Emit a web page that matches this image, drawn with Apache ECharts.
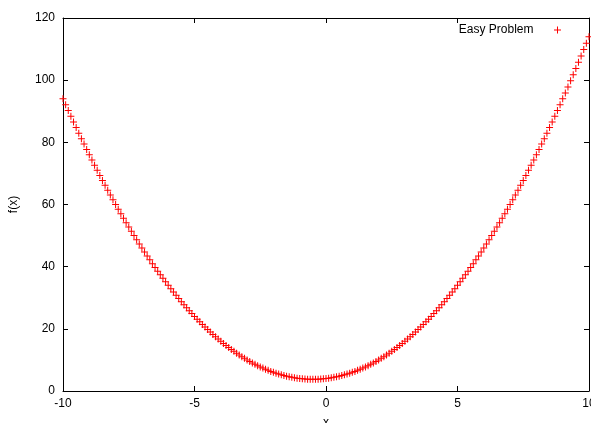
<!DOCTYPE html>
<html>
<head>
<meta charset="utf-8">
<script src="https://cdn.jsdelivr.net/npm/echarts@6/dist/echarts.min.js"></script>
<style>html,body{margin:0;padding:0;background:#fff;}#c{width:591px;height:423px;}</style>
</head>
<body>
<div id="c"></div>
<script>
var seriesName = 'Easy Problem';
var xTicks = [-10, -5, 0, 5, 10];
var yTicks = [0, 20, 40, 60, 80, 100, 120];
var xs = [-10,-9.9,-9.8,-9.7,-9.6,-9.5,-9.4,-9.3,-9.2,-9.1,-9,-8.9,-8.8,-8.7,-8.6,-8.5,-8.4,-8.3,-8.2,-8.1,-8,-7.9,-7.8,-7.7,-7.6,-7.5,-7.4,-7.3,-7.2,-7.1,-7,-6.9,-6.8,-6.7,-6.6,-6.5,-6.4,-6.3,-6.2,-6.1,-6,-5.9,-5.8,-5.7,-5.6,-5.5,-5.4,-5.3,-5.2,-5.1,-5,-4.9,-4.8,-4.7,-4.6,-4.5,-4.4,-4.3,-4.2,-4.1,-4,-3.9,-3.8,-3.7,-3.6,-3.5,-3.4,-3.3,-3.2,-3.1,-3,-2.9,-2.8,-2.7,-2.6,-2.5,-2.4,-2.3,-2.2,-2.1,-2,-1.9,-1.8,-1.7,-1.6,-1.5,-1.4,-1.3,-1.2,-1.1,-1,-0.9,-0.8,-0.7,-0.6,-0.5,-0.4,-0.3,-0.2,-0.1,0,0.1,0.2,0.3,0.4,0.5,0.6,0.7,0.8,0.9,1,1.1,1.2,1.3,1.4,1.5,1.6,1.7,1.8,1.9,2,2.1,2.2,2.3,2.4,2.5,2.6,2.7,2.8,2.9,3,3.1,3.2,3.3,3.4,3.5,3.6,3.7,3.8,3.9,4,4.1,4.2,4.3,4.4,4.5,4.6,4.7,4.8,4.9,5,5.1,5.2,5.3,5.4,5.5,5.6,5.7,5.8,5.9,6,6.1,6.2,6.3,6.4,6.5,6.6,6.7,6.8,6.9,7,7.1,7.2,7.3,7.4,7.5,7.6,7.7,7.8,7.9,8,8.1,8.2,8.3,8.4,8.5,8.6,8.7,8.8,8.9,9,9.1,9.2,9.3,9.4,9.5,9.6,9.7,9.8,9.9,10];
var ys = [94,92.11,90.24,88.39,86.56,84.75,82.96,81.19,79.44,77.71,76,74.31,72.64,70.99,69.36,67.75,66.16,64.59,63.04,61.51,60,58.51,57.04,55.59,54.16,52.75,51.36,49.99,48.64,47.31,46,44.71,43.44,42.19,40.96,39.75,38.56,37.39,36.24,35.11,34,32.91,31.84,30.79,29.76,28.75,27.76,26.79,25.84,24.91,24,23.11,22.24,21.39,20.56,19.75,18.96,18.19,17.44,16.71,16,15.31,14.64,13.99,13.36,12.75,12.16,11.59,11.04,10.51,10,9.51,9.04,8.59,8.16,7.75,7.36,6.99,6.64,6.31,6,5.71,5.44,5.19,4.96,4.75,4.56,4.39,4.24,4.11,4,3.91,3.84,3.79,3.76,3.75,3.76,3.79,3.84,3.91,4,4.11,4.24,4.39,4.56,4.75,4.96,5.19,5.44,5.71,6,6.31,6.64,6.99,7.36,7.75,8.16,8.59,9.04,9.51,10,10.51,11.04,11.59,12.16,12.75,13.36,13.99,14.64,15.31,16,16.71,17.44,18.19,18.96,19.75,20.56,21.39,22.24,23.11,24,24.91,25.84,26.79,27.76,28.75,29.76,30.79,31.84,32.91,34,35.11,36.24,37.39,38.56,39.75,40.96,42.19,43.44,44.71,46,47.31,48.64,49.99,51.36,52.75,54.16,55.59,57.04,58.51,60,61.51,63.04,64.59,66.16,67.75,69.36,70.99,72.64,74.31,76,77.71,79.44,81.19,82.96,84.75,86.56,88.39,90.24,92.11,94,95.91,97.84,99.79,101.76,103.75,105.76,107.79,109.84,111.91,114];

var pts = xs.map(function (x, i) { return [x, ys[i]]; });
var plus = 'path://M3,0H4V3H7V4H4V7H3V4H0V3H3Z';
var font = 'Liberation Sans, Arial, sans-serif';
var axisLine = { show: true, onZero: false, lineStyle: { color: '#000', width: 1 } };
var tick = { show: true, inside: true, length: 5, lineStyle: { color: '#000' } };

var chart = echarts.init(document.getElementById('c'), null, { renderer: 'canvas' });
chart.setOption({
  animation: false,
  backgroundColor: '#fff',
  grid: { left: 63, right: 2, top: 18, bottom: 32, containLabel: false, outerBoundsMode: 'none' },
  legend: {
    right: 25, top: 19,
    align: 'right',
    itemWidth: 38, itemHeight: 7,
    data: [{ name: seriesName, icon: plus }],
    textStyle: { fontFamily: font, fontSize: 12, color: '#000' }
  },
  xAxis: [{
    type: 'value', min: xTicks[0], max: xTicks[xTicks.length - 1], interval: 5,
    name: 'x', nameLocation: 'middle', nameGap: 26,
    nameTextStyle: { fontFamily: font, fontSize: 12, color: '#000' },
    axisLine: axisLine, axisTick: tick, splitLine: { show: false },
    axisLabel: { fontFamily: font, fontSize: 12, color: '#000', margin: 7 }
  }, {
    type: 'value', position: 'top', min: xTicks[0], max: xTicks[xTicks.length - 1], interval: 5,
    axisLine: axisLine, axisTick: tick, splitLine: { show: false }, axisLabel: { show: false }
  }],
  yAxis: [{
    type: 'value', min: yTicks[0], max: yTicks[yTicks.length - 1], interval: 20,
    name: 'f(x)', nameLocation: 'middle', nameGap: 43, nameRotate: 90,
    nameTextStyle: { fontFamily: font, fontSize: 12, color: '#000' },
    axisLine: axisLine, axisTick: tick, splitLine: { show: false },
    axisLabel: { fontFamily: font, fontSize: 12, color: '#000', margin: 8 }
  }, {
    type: 'value', position: 'right', min: yTicks[0], max: yTicks[yTicks.length - 1], interval: 20,
    axisLine: axisLine, axisTick: tick, splitLine: { show: false }, axisLabel: { show: false }
  }],
  series: [{
    name: seriesName,
    type: 'scatter',
    xAxisIndex: 0, yAxisIndex: 0,
    symbol: plus,
    symbolSize: 7,
    itemStyle: { color: '#ff0000', opacity: 1 },
    data: pts
  }]
});
</script>
</body>
</html>
